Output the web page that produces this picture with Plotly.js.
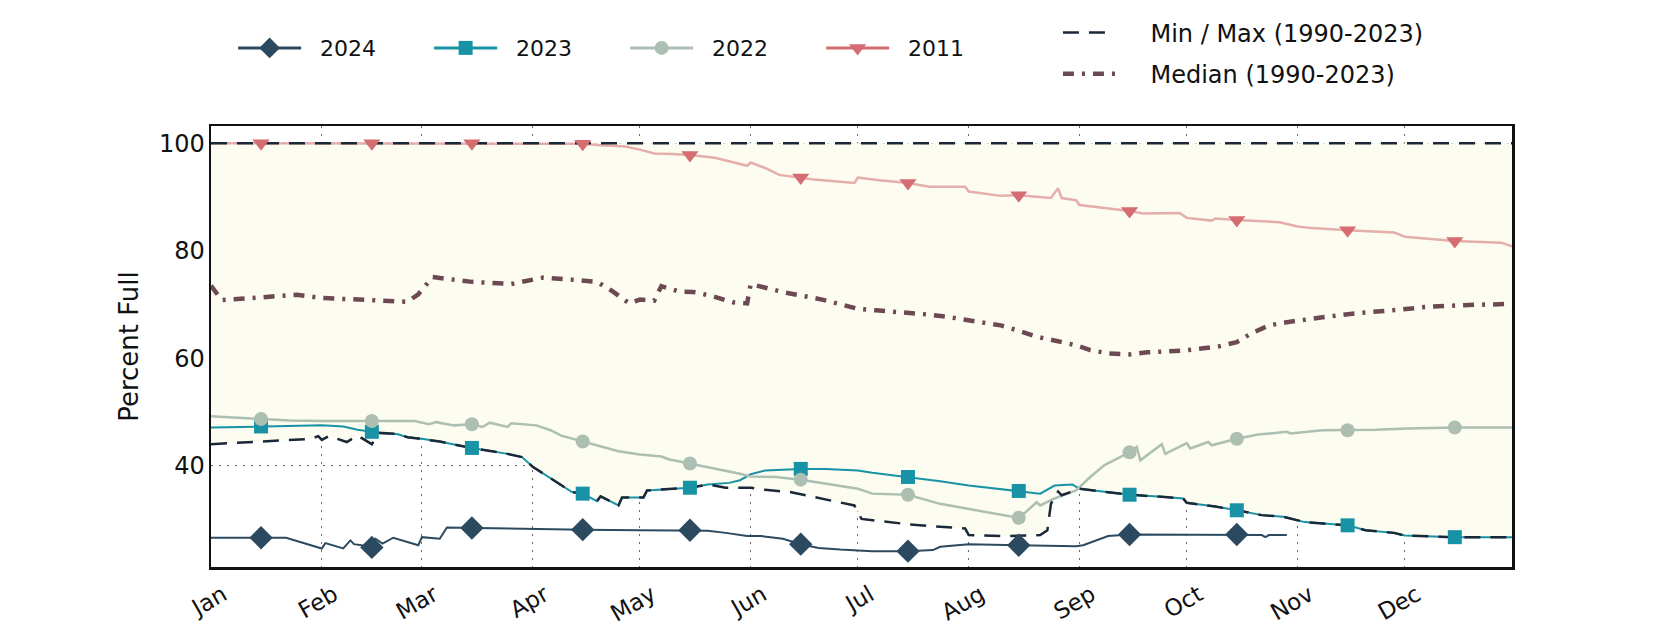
<!DOCTYPE html>
<html>
<head>
<meta charset="utf-8">
<script src="https://cdn.plot.ly/plotly-3.0.1.min.js"></script>
<style>
  html, body { margin: 0; padding: 0; background: #fff; }
  #chart { width: 1680px; height: 630px; }
</style>
</head>
<body>
<div id="chart"></div>
<script>
// all series share a nominal year so they line up on one Jan-Dec axis
var YEAR = "2023-";

var days2024 = ["01-01","01-15","01-22","01-25","02-01","02-02","02-07","02-09","02-10","02-14","02-15","02-16","02-18","02-21","02-28",
  "03-01","03-06","03-08","03-15","04-01","04-15","05-01","05-15","05-20","05-25","05-31","06-04","06-10","06-15","06-20","06-26",
  "07-05","07-15","07-22","07-24","08-01","08-15","08-21","08-31","09-02","09-06","09-09","09-15","10-07","10-15","10-22","10-23","10-24","10-29"];
var pct2024 = [26.6,26.6,26.6,26.0,24.6,25.6,24.6,26.1,25.4,25.0,24.8,26.4,25.5,26.6,25.2,
  26.7,26.4,28.5,28.4,28.2,28.1,28.0,28.0,27.9,27.5,26.9,26.9,26.4,25.4,24.7,24.4,
  24.1,24.1,24.3,24.9,25.4,25.2,25.1,25.0,25.2,26.1,26.9,27.2,27.2,27.2,27.1,26.7,27.1,27.1];

var days2023 = ["01-01","01-15","02-01","02-07","02-11","02-15","02-17","02-22","02-25","03-01","03-06","03-11","03-15","03-25","03-29",
  "04-01","04-07","04-12","04-15","04-19","04-20","04-25","04-26","05-02","05-03","05-07","05-15","05-20","05-26","05-29",
  "06-01","06-05","06-15","06-22","07-01","07-05","07-15","07-24","08-01","08-15","08-21","08-25","08-30","09-01","09-09",
  "09-15","09-24","09-30","10-01","10-09","10-15","10-22","10-28","11-03","11-11","11-15","11-20","11-28","12-01","12-15","12-31"];
var pct2023 = [47.1,47.3,47.5,47.3,46.7,46.3,46.1,45.9,45.3,45.0,44.5,43.8,43.3,42.2,41.6,
  39.8,37.3,35.1,34.8,33.4,34.3,32.6,34.1,34.1,35.4,35.6,35.9,36.5,36.8,37.3,
  38.4,39.1,39.4,39.4,39.1,38.7,37.9,37.1,36.3,35.3,34.8,36.3,36.5,35.7,35.1,
  34.6,34.2,33.9,33.1,32.4,31.7,30.8,30.5,29.5,29.1,28.9,28.0,27.5,27.0,26.7,26.7];

var days2022 = ["01-01","01-15","01-23","02-01","02-15","02-27","03-03","03-05","03-10","03-15","03-18","03-20","03-25","03-26",
  "04-02","04-06","04-09","04-15","04-25","05-01","05-07","05-09","05-15","05-20","05-29","06-01","06-08","06-15","06-22",
  "07-01","07-05","07-15","07-24","08-01","08-15","08-16","08-20","08-21","08-25","08-31","09-04","09-08","09-15","09-17",
  "09-18","09-24","09-25","10-01","10-02","10-07","10-08","10-15","10-21","10-29","10-30","11-08","11-15","11-23","12-02","12-15","12-31"];
var pct2022 = [49.2,48.7,48.4,48.3,48.3,48.3,47.7,48.1,47.5,47.7,47.2,48.0,47.2,47.9,
  47.5,46.6,45.6,44.5,42.7,42.1,41.7,41.2,40.4,39.8,38.5,38.0,37.9,37.4,36.7,
  35.7,34.8,34.6,32.9,32.0,30.3,30.8,33.2,32.6,33.9,35.4,37.9,40.1,42.5,43.5,
  41.0,44.0,42.2,44.2,43.2,44.4,43.8,45.0,45.8,46.3,46.0,46.6,46.6,46.7,46.9,47.1,47.1];

var days2011 = ["01-01","01-15","02-15","03-15","04-15","04-20","04-27","05-01","05-05","05-10","05-15","05-22","05-31","06-01",
  "06-05","06-09","06-15","06-18","06-30","07-01","07-07","07-15","07-21","07-31","08-01","08-10","08-15","08-24","08-26",
  "08-27","08-31","09-01","09-15","09-19","09-29","10-01","10-08","10-09","10-15","10-27","11-01","11-05","11-15","11-28",
  "12-01","12-15","12-28","12-31"];
var pct2011 = [100,100,100,100,99.9,99.6,99.4,98.8,98.1,98.0,97.8,97.3,95.8,96.4,
  95.4,94.1,93.6,93.3,92.6,93.6,93.1,92.6,91.9,91.9,91.0,90.2,90.3,89.8,91.6,
  89.8,89.4,88.5,87.4,86.9,87.0,86.1,85.6,86.0,85.7,85.3,84.5,84.2,83.8,83.4,
  82.6,81.8,81.5,80.8];

var daysMedian = ["01-01","01-04","01-25","02-01","02-25","02-28","03-04","03-15","03-26","03-31","04-04","04-14","04-19","04-23",
  "04-28","05-01","05-05","05-07","05-12","05-16","05-21","05-27","05-31","06-01","06-05","06-10","06-21","06-26","07-01",
  "07-06","07-11","07-21","07-26","08-01","08-10","08-15","08-20","08-25","08-31","09-04","09-09","09-15","09-20","09-30",
  "10-05","10-10","10-15","10-19","10-24","10-29","11-08","11-18","11-29","12-08","12-19","12-31"];
var pctMedian = [73.5,70.8,71.8,71.2,70.5,71.9,75.1,74.2,73.8,74.5,75.0,74.5,74.2,72.6,
  70.2,70.9,70.7,73.4,72.4,72.3,71.6,70.4,70.2,73.8,73.2,72.3,70.9,70.1,69.2,
  68.9,68.7,68.1,67.7,67.0,66.1,65.1,64.0,63.3,62.4,61.5,60.9,60.7,61.1,61.4,
  61.7,62.2,63.0,64.6,66.1,66.7,67.6,68.4,69.0,69.6,69.9,70.1];

var daysMin = ["01-01","01-17","01-29","01-31","02-01","02-03","02-08","02-11","02-15","02-17","02-22","02-25","03-01","03-06",
  "03-11","03-15","03-25","03-29","04-01","04-07","04-12","04-15","04-19","04-20","04-25","04-26","05-02","05-03","05-07",
  "05-15","05-20","05-25","06-01","06-05","06-12","06-22","06-30","07-02","07-15","07-31","08-01","08-12","08-21","08-23",
  "08-24","08-26","08-27","09-01","09-09","09-15","09-24","09-30","10-01","10-09","10-15","10-22","10-28","11-03","11-11",
  "11-15","11-20","11-28","12-01","12-15","12-31"];
var pctMin = [44.0,44.5,45.0,45.5,44.8,45.5,44.4,45.6,44.0,46.1,45.9,45.3,45.0,44.5,
  43.8,43.3,42.2,41.6,39.8,37.3,35.1,34.8,33.4,34.3,32.6,34.1,34.1,35.4,35.6,
  35.9,36.5,35.9,35.9,35.5,35.1,33.7,32.6,30.1,29.1,28.3,27.1,26.9,27.1,28.0,
  32.9,35.2,34.5,35.7,35.1,34.6,34.2,33.9,33.1,32.4,31.7,30.8,30.5,29.5,29.1,
  28.9,28.0,27.5,27.0,26.7,26.7];

var daysMax = ["01-01","12-31"];
var pctMax = [100, 100];

var monthTicks = ["01-01","02-01","03-01","04-01","05-01","06-01","07-01","08-01","09-01","10-01","11-01","12-01"];

function dates(days) { return days.map(function(d) { return YEAR + d; }); }

// markers sit on the 15th of each month
function mids(days, vals) {
  var x = [], y = [];
  days.forEach(function(d, i) {
    if (d.slice(3) === "15") { x.push(YEAR + d); y.push(vals[i]); }
  });
  return {x: x, y: y};
}

// legend text sits a little away from its symbol
function pad(s, n) { return new Array(n + 1).join("\u00a0") + s; }

var cMinMax = "#1b2838";
var cMedian = "#6d4a53";
var cream = "#fcfcf1";

var years = [
  {name: "2024", days: days2024, vals: pct2024, line: "#2c4a5f", mark: "#2c4a5f", sym: "diamond", size: 18, w: 2},
  {name: "2023", days: days2023, vals: pct2023, line: "#1893a5", mark: "#1893a5", sym: "square", size: 14, w: 2},
  {name: "2022", days: days2022, vals: pct2022, line: "#adbfb2", mark: "#adbfb2", sym: "circle", size: 14, w: 2.5},
  {name: "2011", days: days2011, vals: pct2011, line: "rgba(212,109,113,0.55)", mark: "#d46d71", sym: "triangle-down", size: 15, w: 2.5}
];

var data = [];

// shaded band between min and max
data.push({x: dates(daysMin), y: pctMin, mode: "lines", line: {width: 0}, showlegend: false, hoverinfo: "skip"});
data.push({x: dates(daysMax), y: pctMax, mode: "lines", line: {width: 0}, fill: "tonexty", fillcolor: cream, showlegend: false, hoverinfo: "skip"});

data.push({x: dates(daysMedian), y: pctMedian, mode: "lines", name: pad("Median (1990-2023)", 4), legend: "legend2", legendrank: 2,
  line: {color: cMedian, width: 4.5, dash: "11px,8px,3px,8px"}});

years.forEach(function(s) {
  data.push({x: dates(s.days), y: s.vals, mode: "lines", name: s.name, showlegend: false, legendgroup: s.name,
    line: {color: s.line, width: s.w}});
});

data.push({x: dates(daysMin), y: pctMin, mode: "lines", name: pad("Min / Max (1990-2023)", 4), legend: "legend2", legendrank: 1,
  legendgroup: "mm", line: {color: cMinMax, width: 2.5, dash: "16px,10px"}});
data.push({x: dates(daysMax), y: pctMax, mode: "lines", name: "Max", showlegend: false, legendgroup: "mm",
  line: {color: cMinMax, width: 2.5, dash: "16px,10px"}});

years.forEach(function(s) {
  var m = mids(s.days, s.vals);
  data.push({x: m.x, y: m.y, mode: "markers", showlegend: false, legendgroup: s.name,
    marker: {symbol: s.sym, size: s.size, color: s.mark}});
});

// legend entries: line plus marker, as in the original
years.forEach(function(s) {
  data.push({x: [null], y: [null], mode: "lines+markers", name: pad(s.name, 2), legendgroup: s.name,
    line: {color: s.mark, width: 3}, marker: {symbol: s.sym, size: s.size, color: s.mark}});
});

var font = "'DejaVu Sans', sans-serif";

var layout = {
  width: 1680,
  height: 630,
  margin: {l: 211, r: 168, t: 125, b: 63},
  paper_bgcolor: "#fff",
  plot_bgcolor: "#fff",
  font: {family: font, size: 22, color: "#111"},
  xaxis: {
    type: "date",
    range: [YEAR + "01-01", YEAR + "12-31"],
    tickvals: dates(monthTicks),
    tickformat: "%b",
    tickangle: -30,
    ticks: "",
    ticklabelshift: 12,
    ticklabelstandoff: 3,
    showgrid: true,
    gridcolor: "#666",
    griddash: "2px,6px",
    gridwidth: 1,
    showline: true,
    mirror: true,
    linecolor: "#111",
    linewidth: 2.5,
    zeroline: false,
    tickfont: {size: 23}
  },
  yaxis: {
    range: [21.15, 103.2],
    tickvals: [40, 60, 80, 100],
    ticks: "",
    ticklabelstandoff: -1,
    showgrid: true,
    gridcolor: "#666",
    griddash: "2px,6px",
    gridwidth: 1,
    showline: true,
    mirror: true,
    linecolor: "#111",
    linewidth: 2.5,
    zeroline: false,
    tickfont: {size: 24},
    title: {text: "Percent Full", font: {size: 26}, standoff: 13}
  },
  legend: {
    orientation: "h",
    x: 0.017, xanchor: "left",
    y: 1.174, yanchor: "middle",
    itemwidth: 63,
    entrywidth: 118,
    bgcolor: "rgba(0,0,0,0)",
    font: {size: 22},
    itemclick: false
  },
  legend2: {
    orientation: "v",
    x: 0.651, xanchor: "left",
    y: 1.162, yanchor: "middle",
    itemwidth: 52,
    tracegroupgap: 7,
    bgcolor: "rgba(0,0,0,0)",
    font: {size: 24}
  },
  showlegend: true
};

Plotly.newPlot("chart", data, layout, {displayModeBar: false, staticPlot: true});
</script>
</body>
</html>
